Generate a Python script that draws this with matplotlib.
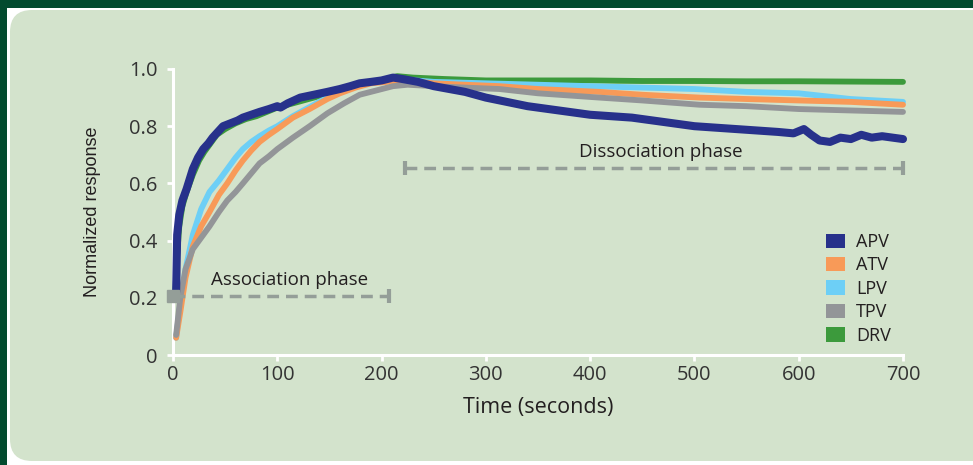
import matplotlib
matplotlib.use("Agg")
import matplotlib.pyplot as plt
from matplotlib.patches import Rectangle, FancyBboxPatch, Patch
from matplotlib.transforms import IdentityTransform

# ---------------- data ----------------
apv_t = [3, 4, 6, 9, 13, 19, 24, 29, 34, 38, 43, 48, 55, 62, 67, 75, 83, 92, 100, 103, 110,
         122, 135, 148, 160, 170, 179, 190, 200, 211, 220, 235, 250, 265, 280, 300, 320, 340,
         360, 380, 400, 420, 440, 460, 480, 500, 520, 540, 560, 580, 595, 605, 612, 620, 630,
         640, 650, 660, 670, 680, 690, 700]
apv_v = [0.22, 0.42, 0.49, 0.54, 0.58, 0.65, 0.69, 0.72, 0.74, 0.76, 0.78, 0.80, 0.81, 0.82,
         0.83, 0.84, 0.85, 0.86, 0.87, 0.865, 0.88, 0.90, 0.91, 0.92, 0.93, 0.94, 0.95, 0.955,
         0.96, 0.97, 0.965, 0.955, 0.94, 0.93, 0.92, 0.90, 0.885, 0.87, 0.86, 0.85, 0.84, 0.835,
         0.83, 0.82, 0.81, 0.80, 0.795, 0.79, 0.785, 0.78, 0.775, 0.79, 0.77, 0.75, 0.745, 0.76,
         0.755, 0.77, 0.76, 0.765, 0.76, 0.755]

drv_t = [2, 4, 6, 9, 13, 19, 25, 30, 36, 42, 50, 60, 70, 80, 100, 120, 150, 180, 200, 215,
         230, 260, 300, 350, 400, 450, 500, 550, 600, 650, 700]
drv_v = [0.20, 0.35, 0.45, 0.52, 0.57, 0.63, 0.68, 0.71, 0.74, 0.77, 0.79, 0.81, 0.825, 0.835,
         0.865, 0.885, 0.915, 0.945, 0.96, 0.975, 0.97, 0.965, 0.96, 0.96, 0.96, 0.958, 0.958,
         0.957, 0.957, 0.956, 0.955]

lpv_t = [3, 7, 12, 19, 27, 35, 44, 52, 60, 67, 75, 83, 92, 100, 115, 130, 148, 165, 180, 200,
         215, 250, 300, 350, 400, 450, 500, 550, 600, 650, 700]
lpv_v = [0.06, 0.18, 0.30, 0.42, 0.51, 0.57, 0.61, 0.65, 0.69, 0.72, 0.745, 0.765, 0.785, 0.80,
         0.835, 0.865, 0.90, 0.925, 0.945, 0.96, 0.965, 0.955, 0.95, 0.945, 0.94, 0.935, 0.93,
         0.92, 0.915, 0.895, 0.885]

atv_t = [3, 7, 12, 19, 27, 35, 44, 52, 60, 67, 75, 83, 92, 100, 115, 131, 148, 160, 175, 190,
         205, 220, 250, 280, 313, 350, 409, 450, 505, 550, 600, 650, 700]
atv_v = [0.06, 0.15, 0.27, 0.38, 0.45, 0.50, 0.56, 0.60, 0.645, 0.68, 0.715, 0.745, 0.77, 0.79,
         0.83, 0.86, 0.895, 0.915, 0.935, 0.95, 0.955, 0.96, 0.95, 0.945, 0.94, 0.93, 0.92,
         0.91, 0.90, 0.895, 0.89, 0.885, 0.875]

tpv_t = [3, 7, 12, 19, 27, 35, 44, 52, 60, 67, 75, 83, 92, 100, 115, 131, 148, 164, 179, 195,
         211, 225, 250, 280, 313, 350, 409, 450, 505, 550, 600, 650, 700]
tpv_v = [0.07, 0.20, 0.30, 0.37, 0.41, 0.45, 0.50, 0.54, 0.57, 0.60, 0.635, 0.67, 0.695, 0.72,
         0.76, 0.80, 0.845, 0.88, 0.91, 0.925, 0.94, 0.945, 0.94, 0.935, 0.93, 0.915, 0.90,
         0.89, 0.875, 0.87, 0.86, 0.855, 0.85]

series_names = ["APV", "ATV", "LPV", "TPV", "DRV"]
series_colors = ["#27318B", "#F89A58", "#6DCFF6", "#939598", "#3C9A3C"]

x_ticks = [0, 100, 200, 300, 400, 500, 600, 700]
x_ticklabels = ["0", "100", "200", "300", "400", "500", "600", "700"]
y_ticks = [0, 0.2, 0.4, 0.6, 0.8, 1.0]
y_ticklabels = ["0", "0.2", "0.4", "0.6", "0.8", "1.0"]

assoc_span = [0, 207]
assoc_level = 0.206
dissoc_span = [222, 700]
dissoc_level = 0.654

# ---------------- figure ----------------
W, H = 973, 465
fig = plt.figure(figsize=(W / 100, H / 100), dpi=100, facecolor="white")

dark = "#024A2E"
panel = "#D3E3CC"
fig.patches.append(Rectangle((0, H - 8), W, 8, transform=IdentityTransform(),
                             facecolor=dark, edgecolor="none", zorder=-3))
fig.patches.append(Rectangle((0, 0), 7, H, transform=IdentityTransform(),
                             facecolor=dark, edgecolor="none", zorder=-3))
fig.patches.append(FancyBboxPatch((10, 4), W + 40, H - 14,
                                  boxstyle="round,pad=0,rounding_size=22",
                                  transform=IdentityTransform(),
                                  facecolor=panel, edgecolor="none", zorder=-2))

ax = fig.add_axes([173 / W, (H - 355) / H, 730 / W, 286 / H])
ax.set_zorder(1)
ax.set_facecolor("none")
ax.set_xlim(0, 700)
ax.set_ylim(0, 1.0)

txt_col = "#231F20"
lw_thin = 4.2
lw_thick = 5.8
order = [("DRV", drv_t, drv_v, lw_thin), ("LPV", lpv_t, lpv_v, lw_thin),
         ("ATV", atv_t, atv_v, lw_thin), ("TPV", tpv_t, tpv_v, lw_thin),
         ("APV", apv_t, apv_v, lw_thick)]
cmap = dict(zip(series_names, series_colors))
for name, t, v, lw in order:
    ax.plot(t, v, color=cmap[name], lw=lw, solid_capstyle="round",
            solid_joinstyle="round", clip_on=False, zorder=3)

# phase markers
grey = "#949E98"
ax.plot(assoc_span, [assoc_level] * 2, color=grey, lw=2.5, ls=(0, (3.4, 2.0)),
        zorder=4, clip_on=False)
ax.plot([assoc_span[0]], [assoc_level], marker="s", ms=8, color=grey, mec=grey,
        zorder=5, clip_on=False)
ax.plot([assoc_span[1]], [assoc_level], marker="|", ms=10, mew=3, color=grey,
        zorder=5, clip_on=False)
ax.plot(dissoc_span, [dissoc_level] * 2, color=grey, lw=2.5, ls=(0, (3.4, 2.0)),
        zorder=4, clip_on=False)
for xx in dissoc_span:
    ax.plot([xx], [dissoc_level], marker="|", ms=10, mew=3, color=grey,
            zorder=5, clip_on=False)

ax.text(112, 0.262, "Association phase", ha="center", va="center", fontsize=13.5,
        color=txt_col, family=["Open Sans", "DejaVu Sans"])
ax.text(468, 0.71, "Dissociation phase", ha="center", va="center", fontsize=13.5,
        color=txt_col, family=["Open Sans", "DejaVu Sans"])

# spines / ticks
for s in ["top", "right"]:
    ax.spines[s].set_visible(False)
for s in ["left", "bottom"]:
    ax.spines[s].set_color("white")
    ax.spines[s].set_linewidth(2.2)
    ax.spines[s].set_zorder(2)
ax.set_xticks(x_ticks)
ax.set_xticklabels(x_ticklabels)
ax.set_yticks(y_ticks)
ax.set_yticklabels(y_ticklabels)
ax.tick_params(direction="out", length=4, width=2, color="white", labelsize=14.5,
               labelcolor="#333333")
ax.tick_params(axis="x", pad=3)
ax.tick_params(axis="y", pad=7)
for lab in ax.get_xticklabels() + ax.get_yticklabels():
    lab.set_family(["Open Sans", "DejaVu Sans"])

ax.set_xlabel("Time (seconds)", fontsize=15.5, color=txt_col,
              family=["Open Sans", "DejaVu Sans"], labelpad=9)
ax.set_ylabel("Normalized response", fontsize=13, color=txt_col,
              family=["Liberation Sans", "DejaVu Sans"], labelpad=20)

handles = [Patch(facecolor=c, edgecolor="none") for c in series_colors]
leg = fig.legend(handles, series_names, loc="upper left",
                 bbox_to_anchor=(826 / W, 1 - 233 / H), frameon=False,
                 borderpad=0, borderaxespad=0, handlelength=1.05, handleheight=0.85,
                 handletextpad=0.6, labelspacing=0.3,
                 prop={"family": ["Open Sans", "DejaVu Sans"], "size": 13})
for t in leg.get_texts():
    t.set_color(txt_col)

fig.savefig("out.png", dpi=100, facecolor="white")
